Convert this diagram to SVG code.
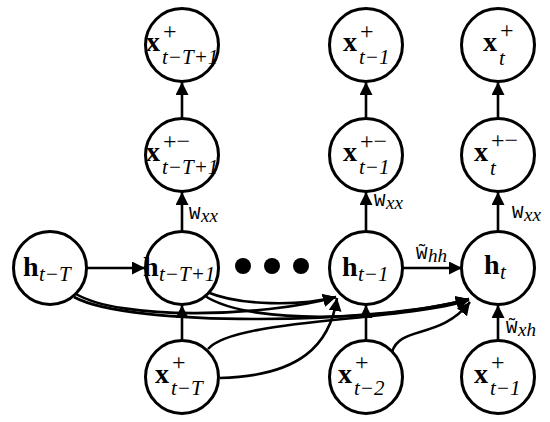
<svg xmlns="http://www.w3.org/2000/svg" width="550" height="422" viewBox="0 0 550 422">
<style>
.n{fill:#fff;stroke:#000;stroke-width:3}
.e{fill:none;stroke:#000;stroke-width:2.6}
.b{font-family:"Liberation Serif","DejaVu Serif",serif;font-weight:bold;font-size:28px}
.s{font-family:"Liberation Serif","DejaVu Serif",serif;font-style:italic;font-size:21px}
.p{font-family:"Liberation Serif","DejaVu Serif",serif;font-size:24px}
.w{font-family:"Liberation Mono","DejaVu Sans Mono",monospace;font-size:19px}
.ws{font-family:"Liberation Serif","DejaVu Serif",serif;font-style:italic;font-size:19px}
</style>
<defs>
<marker id="a" markerUnits="userSpaceOnUse" markerWidth="14" markerHeight="14" refX="13" refY="6.5" orient="auto">
<path d="M0,0 L13,6.5 L0,13 z" fill="#000"/>
</marker>
</defs>
<g id="connectors">
<line class="e" x1="87" y1="268" x2="145" y2="268" marker-end="url(#a)"/>
<line class="e" x1="402" y1="268" x2="462" y2="268" marker-end="url(#a)"/>
<line class="e" x1="182" y1="341" x2="182" y2="305" marker-end="url(#a)"/>
<line class="e" x1="182" y1="231" x2="182" y2="192" marker-end="url(#a)"/>
<line class="e" x1="182" y1="118" x2="182" y2="82" marker-end="url(#a)"/>
<line class="e" x1="366" y1="341" x2="366" y2="305" marker-end="url(#a)"/>
<line class="e" x1="366" y1="231" x2="366" y2="192" marker-end="url(#a)"/>
<line class="e" x1="366" y1="118" x2="366" y2="82" marker-end="url(#a)"/>
<line class="e" x1="498" y1="341" x2="498" y2="305" marker-end="url(#a)"/>
<line class="e" x1="498" y1="231" x2="498" y2="192" marker-end="url(#a)"/>
<line class="e" x1="498" y1="118" x2="498" y2="82" marker-end="url(#a)"/>
<path class="e" d="M76,294 C120,320 260,318 336,297" marker-end="url(#a)"/>
<path class="e" d="M74,297 C130,328 380,324 469,299" marker-end="url(#a)"/>
<path class="e" d="M207,292 C240,306 300,306 336,297" marker-end="url(#a)"/>
<path class="e" d="M205,296 C255,328 400,318 469,299" marker-end="url(#a)"/>
<path class="e" d="M208,349 C235,318 400,322 469,300" marker-end="url(#a)"/>
<path class="e" d="M220,378 C300,376 330,345 337,298" marker-end="url(#a)"/>
<path class="e" d="M392,352 C400,325 440,340 470,302" marker-end="url(#a)"/>
</g>
<g id="dots">
<circle cx="243" cy="266" r="8"/>
<circle cx="272" cy="266" r="8"/>
<circle cx="301" cy="266" r="8"/>
</g>
<g id="n_x_tT1_p">
<circle class="n" cx="182" cy="45" r="36.5"/>
<text class="b" x="146" y="51">x</text><text class="p" x="163" y="39">+</text><text class="s" x="162" y="64">t−T+1</text>
</g>
<g id="n_x_t1_p">
<circle class="n" cx="366" cy="45" r="36.5"/>
<text class="b" x="343" y="51">x</text><text class="p" x="360" y="39">+</text><text class="s" x="359" y="64">t−1</text>
</g>
<g id="n_x_t_p">
<circle class="n" cx="498" cy="45" r="36.5"/>
<text class="b" x="483" y="51">x</text><text class="p" x="500" y="38">+</text><text class="s" x="499" y="65">t</text>
</g>
<g id="n_x_tT1_pm">
<circle class="n" cx="182" cy="155" r="36.5"/>
<text class="b" x="146" y="161">x</text><text class="p" x="163" y="149">+−</text><text class="s" x="162" y="174">t−T+1</text>
</g>
<g id="n_x_t1_pm">
<circle class="n" cx="366" cy="155" r="36.5"/>
<text class="b" x="343" y="161">x</text><text class="p" x="360" y="149">+−</text><text class="s" x="359" y="174">t−1</text>
</g>
<g id="n_x_t_pm">
<circle class="n" cx="498" cy="155" r="36.5"/>
<text class="b" x="474" y="161">x</text><text class="p" x="491" y="148">+−</text><text class="s" x="490" y="175">t</text>
</g>
<g id="n_h_tT">
<circle class="n" cx="50" cy="268" r="36.5"/>
<text class="b" x="23" y="276">h</text><text class="s" x="39" y="281">t−T</text>
</g>
<g id="n_h_tT1">
<circle class="n" cx="182" cy="268" r="36.5"/>
<text class="b" x="143" y="276">h</text><text class="s" x="159" y="281">t−T+1</text>
</g>
<g id="n_h_t1">
<circle class="n" cx="366" cy="268" r="36.5"/>
<text class="b" x="342" y="276">h</text><text class="s" x="358" y="281">t−1</text>
</g>
<g id="n_h_t">
<circle class="n" cx="498" cy="268" r="36.5"/>
<text class="b" x="484" y="274">h</text><text class="s" x="500" y="279">t</text>
</g>
<g id="n_x_tT_p">
<circle class="n" cx="182" cy="377" r="36.5"/>
<text class="b" x="155" y="383">x</text><text class="p" x="172" y="370">+</text><text class="s" x="171" y="395">t−T</text>
</g>
<g id="n_x_t2_p">
<circle class="n" cx="366" cy="377" r="36.5"/>
<text class="b" x="338" y="383">x</text><text class="p" x="355" y="370">+</text><text class="s" x="354" y="395">t−2</text>
</g>
<g id="n_x_t1b_p">
<circle class="n" cx="498" cy="377" r="36.5"/>
<text class="b" x="474" y="383">x</text><text class="p" x="491" y="370">+</text><text class="s" x="490" y="395">t−1</text>
</g>
<g id="labels">
<text class="w" x="189" y="219">W</text><text class="ws" x="201" y="222">xx</text>
<text class="w" x="374" y="206">W</text><text class="ws" x="386" y="209">xx</text>
<text class="w" x="512" y="218">W</text><text class="ws" x="524" y="221">xx</text>
<text class="w" x="416" y="259">W̃</text><text class="ws" x="428" y="262">hh</text>
<text class="w" x="506" y="333">W̃</text><text class="ws" x="518" y="336">xh</text>
</g>
</svg>
